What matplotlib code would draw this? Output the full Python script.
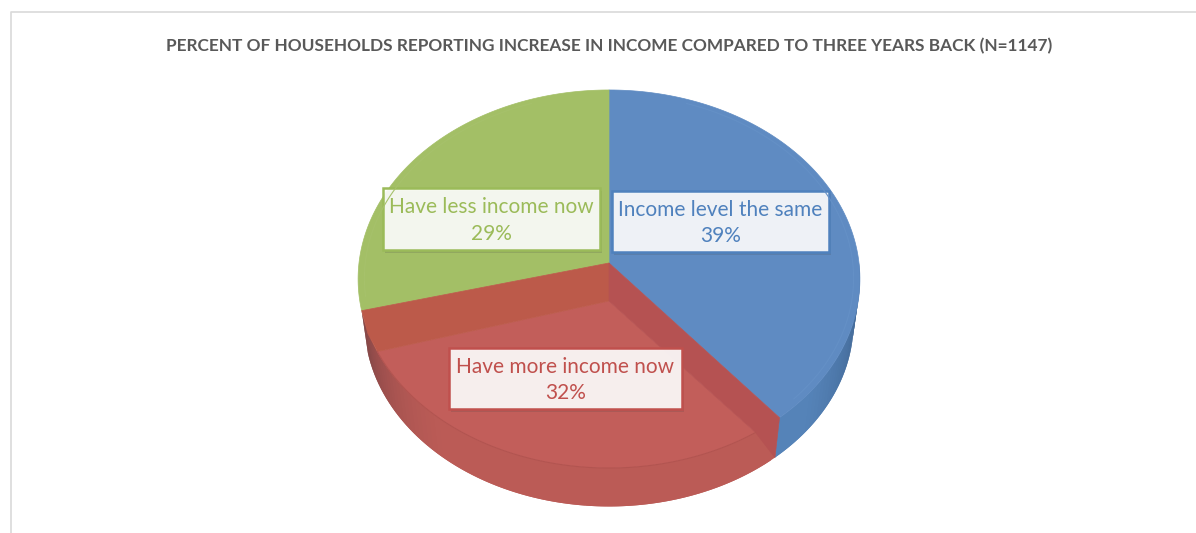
import numpy as np
import matplotlib
matplotlib.use("Agg")
import matplotlib.pyplot as plt
from matplotlib.patches import Polygon, Rectangle

title = "PERCENT OF HOUSEHOLDS REPORTING INCREASE IN INCOME COMPARED TO THREE YEARS BACK (N=1147)"
labels = ["Income level the same", "Have more income now", "Have less income now"]
values = [39, 32, 29]

BLUE, RED, GREEN = "#5f8bc2", "#c25e5a", "#a3bf66"
TEXT_BLUE, TEXT_RED, TEXT_GREEN = "#4f81bd", "#c0504d", "#9bbb59"

# projected disc: pixel-space perspective of a unit circle
CX, APEX_Y = 609, 263
PERSP, YSCALE, XSCALE = -0.0847, 165.4, 250
LOWER_R, LOWER_DROP = 0.975, 44


def rim(theta, r=1.0, drop=0):
    theta = np.radians(theta)
    u, v = r * np.sin(theta), -r * np.cos(theta)
    den = 1 + PERSP * v
    return np.column_stack([CX + XSCALE * u / den, (YSCALE * v + APEX_Y) / den + drop])


def arc(a, b, **kw):
    return rim(np.linspace(a, b, 120), **kw)


def mix(c1, c2, t):
    c1, c2 = matplotlib.colors.to_rgb(c1), matplotlib.colors.to_rgb(c2)
    return tuple((1 - t) * x + t * y for x, y in zip(c1, c2))


fig = plt.figure(figsize=(11.96, 5.33), dpi=100)
ax = fig.add_axes([0, 0, 1, 1])
ax.set_xlim(0, 1196)
ax.set_ylim(533, 0)
ax.axis("off")

# chart frame, cut off at the right and bottom
ax.plot([10.5, 10.5, 1196], [533, 11.5, 11.5], color="#d9d9d9", lw=1.2)

ax.text(609, 46, title, ha="center", va="center", fontsize=12.4, fontweight="bold",
        family="Lato", color="#595959")

shares = np.cumsum([0] + values) / sum(values) * 360
blue_end, red_end = shares[1], shares[2]
apex = np.array([[CX, APEX_Y]])

# side wall, shaded strip by strip; each strip overlaps the next so no seams show
for a in np.append(np.arange(red_end - 1.5, blue_end, -1.5), blue_end):
    b = min(a + 3, red_end)
    strip = np.vstack([arc(a, b), arc(b, a, r=LOWER_R, drop=LOWER_DROP)])
    col = mix("#bb5b56", "#7d4444", max((a - 215) / (red_end - 215), 0) ** 1.5)
    ax.add_patch(Polygon(strip, closed=True, fc=col, ec="none"))
for a in np.arange(90, blue_end - 0.5, 1.5):
    b = min(a + 3, blue_end)
    strip = np.vstack([arc(a, b), arc(b, a, r=LOWER_R, drop=LOWER_DROP)])
    col = mix("#3d618d", "#5583b8", min((a - 90) / 40, 1))
    ax.add_patch(Polygon(strip, closed=True, fc=col, ec="none"))

# top faces
ax.add_patch(Polygon(np.vstack([apex, arc(0, blue_end)]), closed=True, fc=BLUE, ec=BLUE, lw=0.5))
ax.add_patch(Polygon(np.vstack([apex, arc(red_end, 360)]), closed=True, fc=GREEN, ec=GREEN, lw=0.5))

# faint bevel near the rim
ax.plot(*arc(20, blue_end - 6, r=0.975).T, color="#6490c6", lw=0.8)
ax.plot(*arc(red_end + 4, 340, r=0.975).T, color="#a6c16b", lw=0.8)

# red wedge is seen through: sunken floor plus two inner walls
floor_apex = np.array([[CX, 301]])
right_floor, left_floor = blue_end + 6.6, red_end - 12.6
left_wall = np.vstack([apex, rim([red_end]), rim([red_end], r=LOWER_R, drop=LOWER_DROP * 0.55),
                       rim([left_floor]), floor_apex])
right_wall = np.vstack([apex, rim([blue_end]), rim([blue_end], r=LOWER_R, drop=LOWER_DROP),
                        rim([right_floor]), floor_apex])
ax.add_patch(Polygon(np.vstack([floor_apex, arc(right_floor, left_floor)]), closed=True,
                     fc=RED, ec=RED, lw=0.5))
ax.add_patch(Polygon(left_wall, closed=True, fc="#bc5a4a", ec="#bc5a4a", lw=0.5))
ax.add_patch(Polygon(right_wall, closed=True, fc="#b55252", ec="#b55252", lw=0.5))
ax.plot(*arc(right_floor, left_floor).T, color="#b25450", lw=0.8)

# data labels
boxes = [(612, 191, 217, 61), (449, 348, 233, 61), (383, 188, 217, 62)]
text_cols = [TEXT_BLUE, TEXT_RED, TEXT_GREEN]
for lab, val, (x, y, w, h), col in zip(labels, values, boxes, text_cols):
    ax.add_patch(Rectangle((x + 2, y + 3), w, h, fc="#444444", alpha=0.18, ec="none"))
    ax.add_patch(Rectangle((x, y), w, h, fc="white", alpha=0.9, ec="none"))
    ax.add_patch(Rectangle((x, y), w, h, fc="none", ec=col, lw=1.8))
    ax.text(x + w / 2, y + h / 2 + 1.5, f"{lab}\n{val}%", ha="center", va="center", fontsize=15,
            family="Lato", color=col, linespacing=1.42)

fig.savefig("out.png", dpi=100)
